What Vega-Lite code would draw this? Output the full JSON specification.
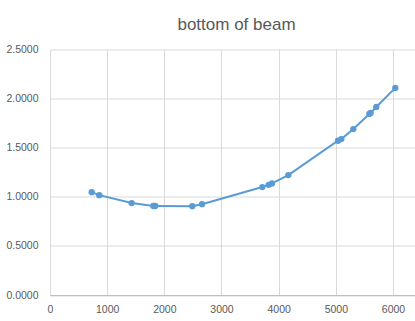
{
  "$schema": "https://vega.github.io/schema/vega-lite/v6.json",
  "width": 365,
  "height": 245.5,
  "autosize": {"type": "none"},
  "padding": {"left": 50, "top": 49.5, "right": 0, "bottom": 26},
  "background": "white",
  "title": {
    "text": "bottom of beam",
    "anchor": "middle",
    "dx": 4,
    "offset": 22,
    "dy": 24,
    "baseline": "alphabetic",
    "font": "Liberation Sans",
    "fontSize": 17,
    "fontWeight": "normal",
    "color": "#595959"
  },
  "config": {
    "view": {"stroke": null},
    "axis": {
      "labelFont": "Liberation Sans",
      "labelFontSize": 10.5,
      "labelColor": "#595959",
      "gridColor": "#D9D9D9",
      "gridWidth": 1,
      "ticks": false,
      "title": null
    }
  },
  "data": {
    "values": [
      {"x": 729, "y": 1.047},
      {"x": 862, "y": 1.017},
      {"x": 1429, "y": 0.936},
      {"x": 1807, "y": 0.906},
      {"x": 1842, "y": 0.906},
      {"x": 2489, "y": 0.905},
      {"x": 2659, "y": 0.925},
      {"x": 3714, "y": 1.099},
      {"x": 3825, "y": 1.122},
      {"x": 3883, "y": 1.136},
      {"x": 4169, "y": 1.221},
      {"x": 5038, "y": 1.571},
      {"x": 5096, "y": 1.588},
      {"x": 5306, "y": 1.69},
      {"x": 5586, "y": 1.844},
      {"x": 5609, "y": 1.854},
      {"x": 5708, "y": 1.915},
      {"x": 6040, "y": 2.109}
    ]
  },
  "mark": {
    "type": "line",
    "color": "#5B9BD5",
    "strokeWidth": 2,
    "point": {"filled": true, "size": 40, "color": "#5B9BD5", "opacity": 1}
  },
  "encoding": {
    "x": {
      "field": "x",
      "type": "quantitative",
      "scale": {"domain": [0, 6385], "nice": false, "zero": true},
      "axis": {
        "values": [0, 1000, 2000, 3000, 4000, 5000, 6000],
        "format": "d",
        "grid": true,
        "domain": true,
        "domainColor": "#BFBFBF",
        "labelPadding": 9,
        "labelFlush": false,
        "labelOverlap": false
      }
    },
    "y": {
      "field": "y",
      "type": "quantitative",
      "scale": {"domain": [0, 2.5], "nice": false},
      "axis": {
        "values": [0, 0.5, 1, 1.5, 2, 2.5],
        "format": ".4f",
        "grid": true,
        "domain": false,
        "labelPadding": 12,
        "labelFlush": false,
        "labelOverlap": false
      }
    }
  }
}
